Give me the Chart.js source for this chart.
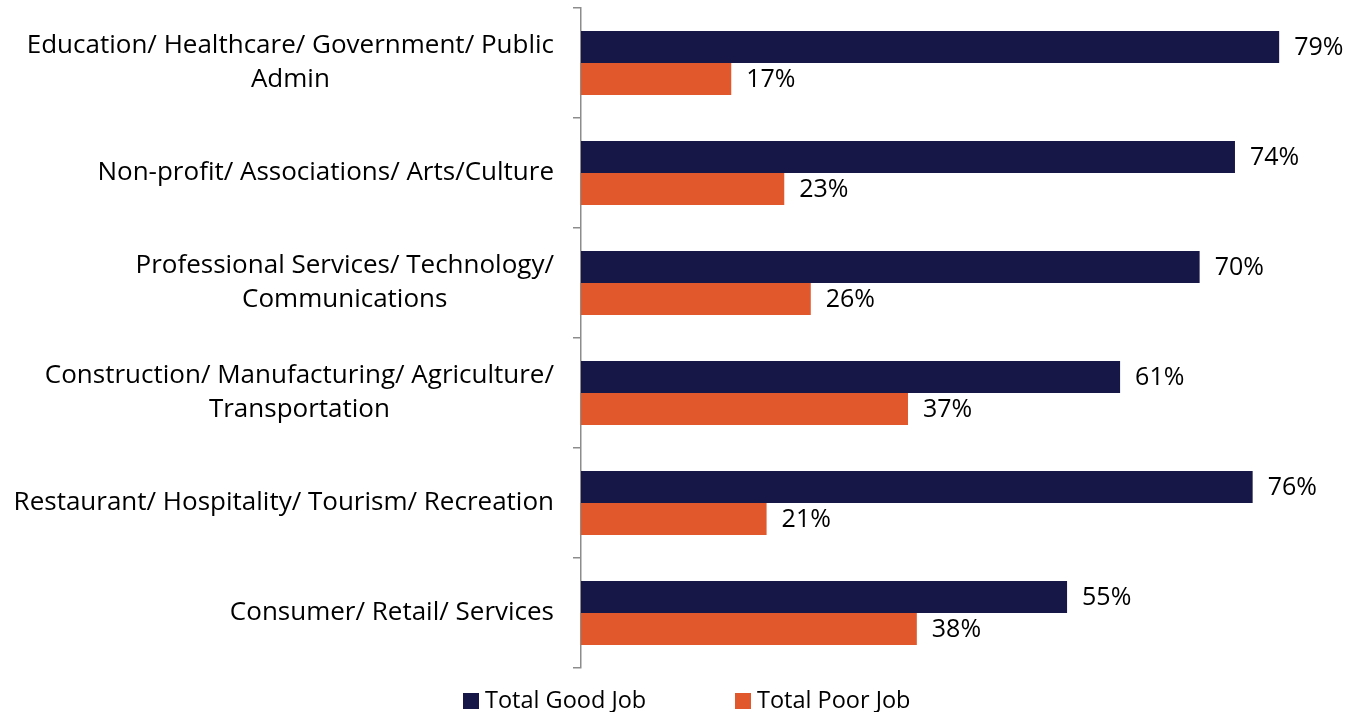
<!DOCTYPE html>
<html><head><meta charset="utf-8">
<script src="https://cdn.jsdelivr.net/npm/chart.js@4/dist/chart.umd.min.js"></script>
<style>html,body{margin:0;padding:0;background:#fff;}#wrap{width:1350px;height:712px;}</style>
</head><body><div id="wrap"><canvas id="c" width="1350" height="712"></canvas></div>
<script>
const categories = [
  ["Education/ Healthcare/ Government/ Public", "Admin"],
  "Non-profit/ Associations/ Arts/Culture",
  ["Professional Services/ Technology/", "Communications"],
  ["Construction/ Manufacturing/ Agriculture/", "Transportation"],
  "Restaurant/ Hospitality/ Tourism/ Recreation",
  "Consumer/ Retail/ Services"
];
const seriesNames = ["Total Good Job", "Total Poor Job"];
const goodJob = [79, 74, 70, 61, 76, 55];
const poorJob = [17, 23, 26, 37, 21, 38];
const colors = ['#161746', '#E0582B'];

const FONT = "'Open Sans', sans-serif";

const labelPlugin = {
  id: 'valueLabels',
  afterDatasetsDraw(chart) {
    const ctx = chart.ctx;
    ctx.save();
    ctx.font = "25px " + FONT;
    ctx.fillStyle = "#000";
    ctx.textAlign = "left";
    ctx.textBaseline = "middle";
    chart.data.datasets.forEach((ds, i) => {
      const meta = chart.getDatasetMeta(i);
      meta.data.forEach((el, j) => {
        ctx.fillText(ds.data[j] + "%", el.x + 15, el.y + 1);
      });
    });
    ctx.restore();
  }
};

// Category labels: each block right-aligned to the axis, lines centred within the block
const categoryLabelPlugin = {
  id: 'categoryLabels',
  afterDraw(chart) {
    const ctx = chart.ctx;
    const scale = chart.scales.y;
    const right = scale.right - 8 - 19;
    const lh = 34;
    ctx.save();
    ctx.font = "26px " + FONT;
    ctx.fillStyle = "#000";
    ctx.textAlign = "center";
    ctx.textBaseline = "middle";
    chart.data.labels.forEach((lab, i) => {
      const lines = Array.isArray(lab) ? lab : [lab];
      const w = Math.max(...lines.map(l => ctx.measureText(l).width));
      const cx = right - w / 2;
      const cy = scale.getPixelForValue(i);
      lines.forEach((l, k) => {
        ctx.fillText(l, cx, cy + (k - (lines.length - 1) / 2) * lh);
      });
    });
    ctx.restore();
  }
};

const legendPlugin = {
  id: 'bottomLegend',
  afterDraw(chart) {
    const ctx = chart.ctx;
    ctx.save();
    ctx.font = "23.5px " + FONT;
    ctx.textAlign = "left";
    ctx.textBaseline = "middle";
    const starts = [463, 735];
    const y = 701;
    chart.data.datasets.forEach((ds, i) => {
      ctx.fillStyle = ds.backgroundColor;
      ctx.fillRect(starts[i], y - 8, 16, 16);
      ctx.fillStyle = '#000';
      ctx.fillText(ds.label, starts[i] + 22, y);
    });
    ctx.restore();
  }
};

new Chart(document.getElementById('c'), {
  type: 'bar',
  data: {
    labels: categories,
    datasets: [
      { label: seriesNames[0], data: goodJob, backgroundColor: colors[0], borderWidth: 0 },
      { label: seriesNames[1], data: poorJob, backgroundColor: colors[1], borderWidth: 0 }
    ]
  },
  options: {
    indexAxis: 'y',
    responsive: false,
    animation: false,
    devicePixelRatio: 1,
    layout: { padding: { top: 8, right: 62, left: 0, bottom: 44 } },
    datasets: { bar: { barPercentage: 1.0, categoryPercentage: 0.58 } },
    scales: {
      x: { display: false, min: 0, max: 80 },
      y: {
        afterFit(s) { s.width = 581; s.paddingTop = 0; s.paddingBottom = 0; },
        border: { display: true, color: '#8c8c8c', width: 1.5 },
        grid: { drawOnChartArea: false, drawTicks: true, tickLength: 8, color: '#8c8c8c', lineWidth: 1.5, offset: true },
        ticks: { display: false }
      }
    },
    plugins: {
      legend: { display: false },
      tooltip: { enabled: false }
    }
  },
  plugins: [labelPlugin, categoryLabelPlugin, legendPlugin]
});
</script>
</body></html>
